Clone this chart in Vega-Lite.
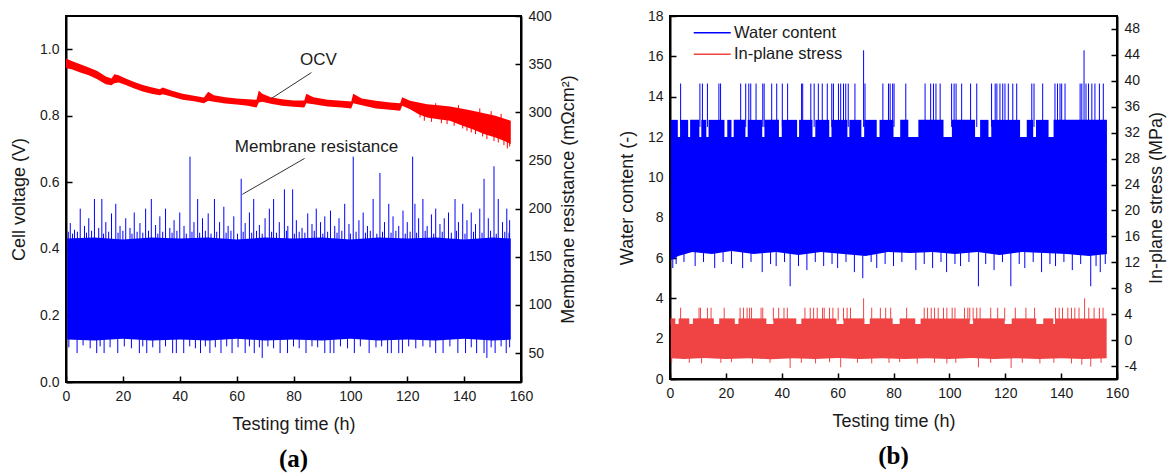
{
"$schema": "https://vega.github.io/schema/vega-lite/v6.json",
"padding": {"left": 9, "top": 8, "right": 0, "bottom": 0},
"bounds": "flush",
"spacing": 149,
"background": "white",
"config": {
  "font": "Liberation Sans",
  "view": {"stroke": "black", "strokeWidth": 2},
  "axis": {"domainColor": "black", "domainWidth": 2, "tickColor": "black", "tickWidth": 1.5, "tickSize": -6, "labelPadding": 13, "labelFont": "Liberation Sans", "labelFontSize": 14, "labelColor": "#1a1a1a", "titleFont": "Liberation Sans", "titleFontSize": 18, "titleFontWeight": "normal", "titleColor": "#1a1a1a", "grid": false, "labelFlush": false, "labelOverlap": false},
  "legend": {"labelFont": "Liberation Sans"}
},
"datasets": {
  "a_ocv": [
    {"t":0,"v":0.943,"v2":0.972},{"t":2,"v":0.940,"v2":0.965},{"t":5,"v":0.930,"v2":0.955},{"t":8,"v":0.922,"v2":0.945},{"t":11,"v":0.910,"v2":0.935},{"t":14,"v":0.895,"v2":0.918},{"t":16,"v":0.892,"v2":0.912},{"t":17,"v":0.898,"v2":0.925},{"t":18.5,"v":0.900,"v2":0.922},{"t":21,"v":0.893,"v2":0.912},{"t":24,"v":0.882,"v2":0.902},{"t":27,"v":0.873,"v2":0.893},{"t":30,"v":0.866,"v2":0.886},{"t":33,"v":0.862,"v2":0.880},{"t":34,"v":0.865,"v2":0.885},{"t":37,"v":0.858,"v2":0.876},{"t":41,"v":0.848,"v2":0.866},{"t":45,"v":0.844,"v2":0.860},{"t":48.5,"v":0.838,"v2":0.855},{"t":50,"v":0.845,"v2":0.872},{"t":52,"v":0.842,"v2":0.862},{"t":56,"v":0.837,"v2":0.856},{"t":60,"v":0.834,"v2":0.852},{"t":64,"v":0.830,"v2":0.850},{"t":67,"v":0.825,"v2":0.848},{"t":67.8,"v":0.840,"v2":0.876},{"t":69,"v":0.842,"v2":0.866},{"t":72,"v":0.836,"v2":0.856},{"t":76,"v":0.830,"v2":0.850},{"t":80,"v":0.827,"v2":0.846},{"t":83.8,"v":0.825,"v2":0.846},{"t":84.5,"v":0.838,"v2":0.866},{"t":87,"v":0.835,"v2":0.856},{"t":92,"v":0.828,"v2":0.848},{"t":97,"v":0.825,"v2":0.845},{"t":100.3,"v":0.822,"v2":0.843},{"t":101,"v":0.838,"v2":0.866},{"t":104,"v":0.832,"v2":0.852},{"t":109,"v":0.822,"v2":0.845},{"t":114,"v":0.818,"v2":0.840},{"t":117.5,"v":0.815,"v2":0.838},{"t":118.2,"v":0.830,"v2":0.856},{"t":121,"v":0.820,"v2":0.845},{"t":124,"v":0.805,"v2":0.840},{"t":127,"v":0.795,"v2":0.835},{"t":131,"v":0.790,"v2":0.832},{"t":135,"v":0.785,"v2":0.828},{"t":139,"v":0.772,"v2":0.822},{"t":143,"v":0.760,"v2":0.815},{"t":147,"v":0.745,"v2":0.808},{"t":151,"v":0.735,"v2":0.800},{"t":154,"v":0.725,"v2":0.792},{"t":156.4,"v":0.715,"v2":0.785}
  ],
  "a_ocv_sp": [
    {"t":124.5,"v":0.795,"b":0.82},{"t":126,"v":0.785,"b":0.82},{"t":128.5,"v":0.782,"b":0.815},{"t":130,"v":0.838,"b":0.81},{"t":132,"v":0.778,"b":0.81},{"t":134,"v":0.775,"b":0.81},{"t":136.5,"v":0.77,"b":0.805},{"t":138,"v":0.832,"b":0.8},{"t":139.5,"v":0.762,"b":0.8},{"t":141,"v":0.755,"b":0.79},{"t":142.5,"v":0.75,"b":0.79},{"t":144,"v":0.745,"b":0.785},{"t":145.5,"v":0.822,"b":0.78},{"t":146.5,"v":0.738,"b":0.78},{"t":148,"v":0.73,"b":0.775},{"t":149.5,"v":0.814,"b":0.77},{"t":150.5,"v":0.724,"b":0.765},{"t":152,"v":0.72,"b":0.76},{"t":153,"v":0.806,"b":0.76},{"t":154,"v":0.712,"b":0.755},{"t":155.2,"v":0.702,"b":0.75},{"t":156,"v":0.708,"b":0.75}
  ],
  "a_notes": [
    {"t":86.3,"v":0.930,"t2":72.2,"v2":0.852,"label":"OCV","lt":88.8,"lv":0.969},
    {"t":83.9,"v":0.672,"t2":62.0,"v2":0.564,"label":"Membrane resistance","lt":88.1,"lv":0.705}
  ],
  "a_blue": [
    {"t":0.4,"v":64,"v2":169},{"t":10,"v":63,"v2":170},{"t":20,"v":65,"v2":168},{"t":30,"v":63,"v2":170},{"t":40,"v":64,"v2":169},{"t":50,"v":63,"v2":170},{"t":60,"v":65,"v2":168},{"t":70,"v":63,"v2":170},{"t":80,"v":64,"v2":169},{"t":90,"v":63,"v2":170},{"t":100,"v":65,"v2":168},{"t":110,"v":63,"v2":170},{"t":120,"v":64,"v2":169},{"t":130,"v":63,"v2":170},{"t":140,"v":65,"v2":168},{"t":150,"v":63,"v2":170},{"t":156.4,"v":64,"v2":169}
  ],
  "a_up": [
    {"t":1.5,"v":185},{"t":3,"v":178},{"t":5,"v":200},{"t":6.5,"v":182},{"t":8,"v":190},{"t":10,"v":210},{"t":11.5,"v":180},{"t":12.6,"v":210},{"t":14,"v":186},{"t":16,"v":195},{"t":17.5,"v":205},{"t":19,"v":182},{"t":21,"v":190},{"t":22.5,"v":180},{"t":24,"v":196},{"t":26,"v":185},{"t":28,"v":200},{"t":30,"v":210},{"t":31.5,"v":183},{"t":33,"v":192},{"t":35,"v":200},{"t":36.5,"v":180},{"t":38,"v":188},{"t":40,"v":196},{"t":41.5,"v":182},{"t":43.6,"v":254},{"t":45,"v":186},{"t":46.3,"v":210},{"t":48,"v":190},{"t":50,"v":195},{"t":52.2,"v":210},{"t":54,"v":186},{"t":55.5,"v":202},{"t":57,"v":182},{"t":59,"v":192},{"t":61.6,"v":231},{"t":63,"v":185},{"t":64.5,"v":196},{"t":66,"v":210},{"t":68,"v":183},{"t":70,"v":190},{"t":71.5,"v":200},{"t":73,"v":210},{"t":75,"v":186},{"t":76.8,"v":220},{"t":78,"v":182},{"t":79.7,"v":220},{"t":81,"v":188},{"t":83,"v":180},{"t":85,"v":195},{"t":86.5,"v":184},{"t":88,"v":200},{"t":89.5,"v":186},{"t":91,"v":192},{"t":93,"v":198},{"t":94.5,"v":182},{"t":96,"v":190},{"t":98,"v":205},{"t":99.5,"v":184},{"t":101,"v":254},{"t":103,"v":188},{"t":104.5,"v":196},{"t":106,"v":182},{"t":108,"v":210},{"t":110.4,"v":237},{"t":112,"v":186},{"t":113.5,"v":205},{"t":115,"v":192},{"t":117,"v":182},{"t":118.5,"v":198},{"t":120,"v":186},{"t":121.9,"v":254},{"t":122.7,"v":205},{"t":124,"v":190},{"t":125.5,"v":210},{"t":127,"v":182},{"t":128.5,"v":194},{"t":130,"v":200},{"t":131.5,"v":184},{"t":133,"v":190},{"t":134.5,"v":196},{"t":136.8,"v":210},{"t":138,"v":186},{"t":139.5,"v":205},{"t":141,"v":188},{"t":142.5,"v":196},{"t":144,"v":184},{"t":145.5,"v":200},{"t":147,"v":231},{"t":148.5,"v":190},{"t":150.5,"v":244},{"t":152,"v":210},{"t":153.5,"v":186},{"t":155,"v":200},{"t":156,"v":188},
    {"t":0.8,"v":176},{"t":2.3,"v":174},{"t":4,"v":176},{"t":7.2,"v":175},{"t":9,"v":177},{"t":13.2,"v":174},{"t":15,"v":176},{"t":18.3,"v":175},{"t":20,"v":177},{"t":23.2,"v":174},{"t":25,"v":176},{"t":27,"v":175},{"t":29,"v":177},{"t":32.3,"v":174},{"t":34,"v":176},{"t":37.3,"v":175},{"t":39,"v":177},{"t":42.3,"v":174},{"t":44.3,"v":176},{"t":47,"v":175},{"t":49,"v":177},{"t":51,"v":174},{"t":53,"v":176},{"t":56.3,"v":175},{"t":58,"v":177},{"t":60.3,"v":174},{"t":62.3,"v":176},{"t":65.3,"v":175},{"t":67,"v":177},{"t":69,"v":174},{"t":72.3,"v":176},{"t":74,"v":175},{"t":77.5,"v":177},{"t":80.3,"v":174},{"t":82,"v":176},{"t":84,"v":175},{"t":87.3,"v":177},{"t":90.3,"v":174},{"t":92,"v":176},{"t":95.3,"v":175},{"t":97,"v":177},{"t":100,"v":174},{"t":102,"v":176},{"t":105.3,"v":175},{"t":107,"v":177},{"t":109.3,"v":174},{"t":111.3,"v":176},{"t":114.3,"v":175},{"t":116,"v":177},{"t":119.3,"v":174},{"t":121,"v":176},{"t":123.3,"v":175},{"t":126.3,"v":177},{"t":129.3,"v":174},{"t":132.3,"v":176},{"t":135.5,"v":175},{"t":137.3,"v":177},{"t":140.3,"v":174},{"t":143.3,"v":176},{"t":146.3,"v":175},{"t":149.3,"v":177},{"t":151.3,"v":174},{"t":154.3,"v":176},{"t":155.8,"v":175}
  ],
  "a_dn": [
    {"t":1,"v":56},{"t":3.9,"v":50},{"t":6,"v":58},{"t":8.5,"v":55},{"t":10.8,"v":50},{"t":12,"v":57},{"t":13.4,"v":50},{"t":15.5,"v":56},{"t":18.2,"v":50},{"t":20.5,"v":57},{"t":23,"v":55},{"t":25.8,"v":50},{"t":27,"v":57},{"t":28.4,"v":50},{"t":30.5,"v":56},{"t":33,"v":50},{"t":35,"v":57},{"t":37.5,"v":50},{"t":38.8,"v":50},{"t":41.4,"v":50},{"t":43.5,"v":57},{"t":45.5,"v":55},{"t":47.3,"v":50},{"t":49,"v":57},{"t":50.6,"v":50},{"t":52.5,"v":56},{"t":54.5,"v":50},{"t":56.5,"v":57},{"t":58.4,"v":50},{"t":60.5,"v":56},{"t":63,"v":50},{"t":64.5,"v":57},{"t":66.2,"v":50},{"t":68,"v":56},{"t":69,"v":45},{"t":71,"v":57},{"t":73,"v":55},{"t":75.3,"v":50},{"t":77.9,"v":50},{"t":80,"v":57},{"t":82,"v":55},{"t":84.4,"v":50},{"t":86.5,"v":57},{"t":88.5,"v":56},{"t":91,"v":50},{"t":92.9,"v":50},{"t":94.2,"v":50},{"t":96.5,"v":57},{"t":99,"v":55},{"t":101.4,"v":50},{"t":103.5,"v":57},{"t":106.6,"v":50},{"t":109,"v":56},{"t":111,"v":57},{"t":113.1,"v":50},{"t":114.4,"v":50},{"t":117,"v":50},{"t":118.3,"v":50},{"t":120.5,"v":57},{"t":123,"v":55},{"t":125.5,"v":57},{"t":128,"v":56},{"t":130,"v":50},{"t":132.6,"v":50},{"t":135,"v":57},{"t":137.8,"v":50},{"t":140.5,"v":50},{"t":142.5,"v":56},{"t":144.4,"v":50},{"t":147,"v":50},{"t":148,"v":45},{"t":149.5,"v":56},{"t":150.9,"v":50},{"t":153,"v":57},{"t":154.8,"v":50},{"t":156,"v":56}
  ],
  "b_blue": [
    {"t":0.3,"v":5.9,"v2":12},{"t":3,"v":6.1,"v2":12},{"t":8,"v":6.3,"v2":12},{"t":15,"v":6.2,"v2":12},{"t":22,"v":6.35,"v2":12},{"t":30,"v":6.2,"v2":12},{"t":38,"v":6.3,"v2":12},{"t":46,"v":6.15,"v2":12},{"t":54,"v":6.3,"v2":12},{"t":62,"v":6.2,"v2":12},{"t":70,"v":6.1,"v2":12},{"t":78,"v":6.3,"v2":12},{"t":86,"v":6.25,"v2":12},{"t":94,"v":6.3,"v2":12},{"t":102,"v":6.2,"v2":12},{"t":110,"v":6.3,"v2":12},{"t":118,"v":6.15,"v2":12},{"t":126,"v":6.3,"v2":12},{"t":134,"v":6.25,"v2":12},{"t":142,"v":6.2,"v2":12},{"t":150,"v":6.1,"v2":12},{"t":156.4,"v":6.2,"v2":12}
  ],
  "b_blue_pl": [
    {"t":0.3,"t2":2.8,"v":11.9,"v2":12.85},{"t":3.6,"t2":6.5,"v":11.9,"v2":12.85},{"t":7.2,"t2":10.5,"v":11.9,"v2":12.85},{"t":11.2,"t2":13,"v":11.9,"v2":12.85},{"t":13.8,"t2":19.5,"v":11.9,"v2":12.85},{"t":20.5,"t2":22,"v":11.9,"v2":12.85},{"t":22.8,"t2":27,"v":11.9,"v2":12.85},{"t":27.8,"t2":33,"v":11.9,"v2":12.85},{"t":33.8,"t2":39,"v":11.9,"v2":12.85},{"t":40,"t2":45.5,"v":11.9,"v2":12.85},{"t":46.2,"t2":51,"v":11.9,"v2":12.85},{"t":52,"t2":57,"v":11.9,"v2":12.85},{"t":57.8,"t2":63.5,"v":11.9,"v2":12.85},{"t":64.2,"t2":68.5,"v":11.9,"v2":12.85},{"t":69.5,"t2":74,"v":11.9,"v2":12.85},{"t":75,"t2":80,"v":11.9,"v2":12.85},{"t":82.4,"t2":85.3,"v":11.9,"v2":12.85},{"t":88.9,"t2":97.9,"v":11.9,"v2":12.85},{"t":100.9,"t2":109.2,"v":11.9,"v2":12.85},{"t":111,"t2":114,"v":11.9,"v2":12.85},{"t":115,"t2":125.3,"v":11.9,"v2":12.85},{"t":127.7,"t2":130,"v":11.9,"v2":12.85},{"t":131,"t2":135.5,"v":11.9,"v2":12.85},{"t":137.3,"t2":156.4,"v":11.9,"v2":12.85}
  ],
  "b_blue_up": [
    {"t":3.8,"v":14.65},{"t":10.7,"v":14.65},{"t":11.6,"v":14.65},{"t":13.4,"v":14.65},{"t":17.5,"v":14.65},{"t":18.1,"v":14.65},{"t":25.3,"v":14.65},{"t":27.1,"v":14.65},{"t":28.2,"v":14.65},{"t":28.9,"v":14.65},{"t":30.8,"v":14.65},{"t":33.2,"v":14.65},{"t":33.7,"v":14.65},{"t":36.4,"v":14.65},{"t":38.2,"v":14.65},{"t":40.2,"v":14.65},{"t":42.1,"v":14.65},{"t":47.1,"v":14.65},{"t":47.5,"v":14.65},{"t":50.4,"v":14.65},{"t":51.6,"v":14.65},{"t":53.1,"v":14.65},{"t":54.5,"v":14.65},{"t":56.3,"v":14.65},{"t":57.9,"v":14.65},{"t":58.5,"v":14.65},{"t":60.3,"v":14.65},{"t":61.1,"v":14.65},{"t":62.1,"v":14.65},{"t":62.9,"v":14.65},{"t":63.8,"v":14.65},{"t":66.2,"v":14.65},{"t":69.3,"v":16.3},{"t":69.8,"v":14.65},{"t":76.2,"v":14.65},{"t":78.2,"v":14.65},{"t":78.8,"v":14.65},{"t":79.7,"v":14.65},{"t":80.2,"v":14.65},{"t":84.4,"v":14.65},{"t":91.3,"v":14.65},{"t":93.3,"v":14.65},{"t":94.3,"v":14.65},{"t":95.2,"v":14.65},{"t":96.7,"v":14.65},{"t":100.8,"v":14.65},{"t":101.7,"v":14.65},{"t":102.4,"v":14.65},{"t":104.4,"v":14.65},{"t":107.6,"v":14.65},{"t":109.8,"v":14.65},{"t":115.1,"v":14.65},{"t":116.4,"v":14.65},{"t":117,"v":14.65},{"t":118.1,"v":14.65},{"t":119.1,"v":14.65},{"t":119.9,"v":14.65},{"t":121.1,"v":14.65},{"t":122.7,"v":14.65},{"t":124.1,"v":14.65},{"t":129.5,"v":14.65},{"t":130.3,"v":14.65},{"t":133.4,"v":14.65},{"t":137.8,"v":14.65},{"t":138.7,"v":14.65},{"t":139.6,"v":14.65},{"t":140.2,"v":14.65},{"t":141.4,"v":14.65},{"t":146.8,"v":14.65},{"t":147.4,"v":14.65},{"t":148.2,"v":16.3},{"t":148.9,"v":14.65},{"t":149.8,"v":14.65},{"t":151,"v":14.65},{"t":152.1,"v":14.65},{"t":153.7,"v":14.65},{"t":155.1,"v":14.65}
  ],
  "b_blue_dn": [
    {"t":1,"v":5.5},{"t":2.2,"v":5.7},{"t":5,"v":5.8},{"t":9,"v":5.6},{"t":12,"v":5.8},{"t":16,"v":5.5},{"t":19,"v":5.8},{"t":22,"v":5.7},{"t":26,"v":5.5},{"t":29,"v":5.8},{"t":33,"v":5.3},{"t":36,"v":5.7},{"t":38,"v":5.6},{"t":41,"v":5.8},{"t":43,"v":4.6},{"t":46,"v":5.6},{"t":49,"v":5.4},{"t":52,"v":5.8},{"t":55,"v":5.6},{"t":58,"v":5.7},{"t":60,"v":5.5},{"t":63,"v":5.8},{"t":66,"v":5.3},{"t":69,"v":5.0},{"t":72,"v":5.8},{"t":74,"v":5.5},{"t":77,"v":5.7},{"t":80,"v":5.6},{"t":83,"v":5.8},{"t":88,"v":5.4},{"t":91,"v":5.7},{"t":94,"v":5.5},{"t":97,"v":5.8},{"t":99,"v":5.3},{"t":102,"v":5.7},{"t":104,"v":5.6},{"t":107,"v":5.8},{"t":110.4,"v":4.6},{"t":113,"v":5.7},{"t":116,"v":5.4},{"t":119,"v":5.8},{"t":122,"v":4.6},{"t":125,"v":5.7},{"t":127,"v":5.5},{"t":130,"v":5.8},{"t":133,"v":5.3},{"t":136,"v":5.7},{"t":138,"v":5.6},{"t":141,"v":5.8},{"t":144,"v":5.4},{"t":147,"v":5.7},{"t":150.6,"v":4.6},{"t":152.5,"v":5.6},{"t":154,"v":5.3},{"t":155.8,"v":5.7}
  ],
  "b_red": [
    {"t":0.3,"v":-2.8,"v2":2.5},{"t":5,"v":-2.9,"v2":2.5},{"t":12,"v":-2.75,"v2":2.5},{"t":20,"v":-2.9,"v2":2.5},{"t":28,"v":-2.8,"v2":2.5},{"t":36,"v":-2.95,"v2":2.5},{"t":44,"v":-2.8,"v2":2.5},{"t":52,"v":-2.9,"v2":2.5},{"t":60,"v":-2.75,"v2":2.5},{"t":68,"v":-2.9,"v2":2.5},{"t":76,"v":-2.8,"v2":2.5},{"t":84,"v":-2.9,"v2":2.5},{"t":92,"v":-2.8,"v2":2.5},{"t":100,"v":-2.9,"v2":2.5},{"t":108,"v":-2.75,"v2":2.5},{"t":116,"v":-2.9,"v2":2.5},{"t":124,"v":-2.8,"v2":2.5},{"t":132,"v":-2.9,"v2":2.5},{"t":140,"v":-2.8,"v2":2.5},{"t":148,"v":-2.9,"v2":2.5},{"t":156.3,"v":-2.8,"v2":2.5}
  ],
  "b_red_pl": [
    {"t":0.2,"t2":1.9,"v":2.4,"v2":3.35},{"t":3.1,"t2":6.9,"v":2.4,"v2":3.35},{"t":8.2,"t2":15.7,"v":2.4,"v2":3.35},{"t":17.6,"t2":23.2,"v":2.4,"v2":3.35},{"t":24.5,"t2":34.5,"v":2.4,"v2":3.35},{"t":37,"t2":45.2,"v":2.4,"v2":3.35},{"t":47,"t2":59.6,"v":2.4,"v2":3.35},{"t":62.1,"t2":69.6,"v":2.4,"v2":3.35},{"t":71.5,"t2":79.7,"v":2.4,"v2":3.35},{"t":82.2,"t2":87.8,"v":2.4,"v2":3.35},{"t":89.7,"t2":107.3,"v":2.4,"v2":3.35},{"t":108.5,"t2":119.8,"v":2.4,"v2":3.35},{"t":122.3,"t2":131.1,"v":2.4,"v2":3.35},{"t":133.6,"t2":137.2,"v":2.4,"v2":3.35},{"t":137.8,"t2":156.3,"v":2.4,"v2":3.35}
  ],
  "b_red_up": [
    {"t":3.8,"v":5},{"t":10.4,"v":5},{"t":10.9,"v":5},{"t":13.4,"v":5},{"t":14.7,"v":5},{"t":19.4,"v":5},{"t":25.1,"v":5},{"t":26.3,"v":5},{"t":27.6,"v":5},{"t":28.5,"v":5},{"t":29.2,"v":5},{"t":32.6,"v":5},{"t":33.2,"v":5},{"t":37,"v":5},{"t":38.9,"v":5},{"t":40.8,"v":5},{"t":42,"v":5},{"t":48.3,"v":5},{"t":50.2,"v":5},{"t":51.4,"v":5},{"t":52.7,"v":5},{"t":54.6,"v":5},{"t":55.2,"v":5},{"t":57.1,"v":5},{"t":58.3,"v":5},{"t":60.2,"v":5},{"t":62.1,"v":5},{"t":63.4,"v":5},{"t":64.6,"v":5},{"t":69.3,"v":6.45},{"t":72.2,"v":5},{"t":75.3,"v":5},{"t":77.2,"v":5},{"t":79,"v":5},{"t":84.7,"v":5},{"t":91,"v":5},{"t":92.2,"v":5},{"t":93.5,"v":5},{"t":94.7,"v":5},{"t":96,"v":5},{"t":97.9,"v":5},{"t":99.1,"v":5},{"t":101,"v":5},{"t":102,"v":5},{"t":105.4,"v":5},{"t":106.6,"v":5},{"t":107.3,"v":5},{"t":108.5,"v":5},{"t":109.8,"v":5},{"t":111,"v":5},{"t":114.8,"v":5},{"t":117.3,"v":5},{"t":119.8,"v":5},{"t":123.6,"v":5},{"t":127.4,"v":5},{"t":130.5,"v":5},{"t":138,"v":5},{"t":139.3,"v":5},{"t":140.5,"v":5},{"t":142.4,"v":5},{"t":143.7,"v":5},{"t":144.9,"v":5},{"t":146.4,"v":5},{"t":148.4,"v":6.45},{"t":149.9,"v":5},{"t":151.8,"v":5},{"t":153.7,"v":5},{"t":155,"v":5}
  ],
  "b_red_dn": [
    {"t":0.6,"v":-3.5},{"t":6.9,"v":-3.5},{"t":11.3,"v":-3.6},{"t":18.2,"v":-3.5},{"t":22,"v":-3.4},{"t":29.5,"v":-3.6},{"t":35.8,"v":-3.5},{"t":43,"v":-4.3},{"t":47,"v":-3.5},{"t":52.1,"v":-3.6},{"t":57.1,"v":-3.4},{"t":61.1,"v":-4.2},{"t":67.1,"v":-3.5},{"t":72.2,"v":-3.6},{"t":78.4,"v":-3.5},{"t":82.2,"v":-3.4},{"t":88.5,"v":-3.6},{"t":94.7,"v":-3.5},{"t":99.1,"v":-3.6},{"t":102.3,"v":-3.5},{"t":110.4,"v":-4.2},{"t":114.8,"v":-3.5},{"t":122.1,"v":-4.3},{"t":126.1,"v":-3.5},{"t":132.4,"v":-3.6},{"t":137.4,"v":-3.5},{"t":143.7,"v":-3.6},{"t":147.4,"v":-3.8},{"t":150.6,"v":-4.1},{"t":154.3,"v":-3.5}
  ]
},
"hconcat": [
  {
    "width": 455, "height": 366,
    "title": {"text": "(a)", "orient": "bottom", "anchor": "middle", "font": "Liberation Serif", "fontSize": 25, "fontWeight": "bold", "color": "black", "offset": 14},
    "encoding": {"x": {"field": "t", "type": "quantitative", "scale": {"domain": [0, 160], "nice": false}, "axis": {"values": [0,20,40,60,80,100,120,140,160], "title": "Testing time (h)", "titlePadding": 12}}},
    "layer": [
      {
        "encoding": {"y": {"field": "v", "type": "quantitative", "scale": {"domain": [20, 400], "nice": false, "zero": false}, "axis": {"orient": "right", "values": [50,100,150,200,250,300,350,400], "title": "Membrane resistance (mΩcm²)", "titleAngle": 270, "titleBaseline": "top", "titlePadding": 8}}},
        "layer": [
          {"data": {"name": "a_blue"}, "mark": {"type": "area", "color": "#0000ff"}, "encoding": {"y2": {"field": "v2"}}},
          {"data": {"name": "a_up"}, "mark": {"type": "rule", "color": "#0000ff", "strokeWidth": 1}, "encoding": {"y2": {"datum": 160}}},
          {"data": {"name": "a_dn"}, "mark": {"type": "rule", "color": "#0000ff", "strokeWidth": 1}, "encoding": {"y2": {"datum": 70}}}
        ]
      },
      {
        "encoding": {"y": {"field": "v", "type": "quantitative", "scale": {"domain": [0, 1.1], "nice": false}, "axis": {"orient": "left", "values": [0,0.2,0.4,0.6,0.8,1.0], "format": ".1f", "title": "Cell voltage (V)", "titlePadding": 11}}},
        "layer": [
          {"data": {"name": "a_ocv"}, "mark": {"type": "area", "color": "#ff0000"}, "encoding": {"y2": {"field": "v2"}}},
          {"data": {"name": "a_ocv_sp"}, "mark": {"type": "rule", "color": "#ff0000", "strokeWidth": 1}, "encoding": {"y2": {"field": "b"}}},
          {"data": {"name": "a_notes"}, "mark": {"type": "rule", "color": "#333333", "strokeWidth": 1}, "encoding": {"x2": {"field": "t2"}, "y2": {"field": "v2"}}},
          {"data": {"name": "a_notes"}, "mark": {"type": "text", "fontSize": 17, "color": "#1a1a1a", "baseline": "middle", "align": "center"}, "encoding": {"x": {"field": "lt", "type": "quantitative"}, "y": {"field": "lv", "type": "quantitative"}, "text": {"field": "label"}}}
        ]
      }
    ],
    "resolve": {"scale": {"y": "independent"}}
  },
  {
    "width": 447, "height": 363,
    "title": {"text": "(b)", "orient": "bottom", "anchor": "middle", "font": "Liberation Serif", "fontSize": 25, "fontWeight": "bold", "color": "black", "offset": 14},
    "encoding": {"x": {"field": "t", "type": "quantitative", "scale": {"domain": [0, 160], "nice": false}, "axis": {"values": [0,20,40,60,80,100,120,140,160], "title": "Testing time (h)", "titlePadding": 12}}},
    "layer": [
      {
        "encoding": {"y": {"field": "v", "type": "quantitative", "scale": {"domain": [0, 18], "nice": false}, "axis": {"orient": "left", "values": [0,2,4,6,8,10,12,14,16,18], "title": "Water content (-)", "titlePadding": 11}}},
        "layer": [
          {"data": {"name": "b_blue"}, "mark": {"type": "area", "color": "#0000ff"}, "encoding": {"y2": {"field": "v2"}}},
          {"data": {"name": "b_blue_pl"}, "mark": {"type": "rect", "color": "#0000ff"}, "encoding": {"x2": {"field": "t2"}, "y2": {"field": "v2"}}},
          {"data": {"name": "b_blue_up"}, "mark": {"type": "rule", "strokeWidth": 1}, "encoding": {"y2": {"datum": 12.5}, "color": {"datum": "Water content", "type": "nominal", "scale": {"domain": ["Water content", "In-plane stress"], "range": ["#0000ff", "#f04444"]}, "legend": {"orient": "none", "legendX": 638, "legendY": 8.5, "title": null, "symbolType": "M-3,0H3", "symbolSize": 152, "symbolStrokeWidth": 1.3, "labelFontSize": 16.5, "labelColor": "#1a1a1a", "labelOffset": 13.5, "rowPadding": 4.5}}}},
          {"data": {"name": "b_blue_dn"}, "mark": {"type": "rule", "color": "#0000ff", "strokeWidth": 1}, "encoding": {"y2": {"datum": 7}}}
        ]
      },
      {
        "encoding": {"y": {"field": "v", "type": "quantitative", "scale": {"domain": [-6, 50], "nice": false, "zero": false}, "axis": {"orient": "right", "values": [-4,0,4,8,12,16,20,24,28,32,36,40,44,48], "labelExpr": "'' + datum.value", "title": "In-plane stress (MPa)", "titleAngle": 270, "titleBaseline": "top", "titlePadding": 8}}},
        "layer": [
          {"data": {"name": "b_red"}, "mark": {"type": "area", "color": "#f04444"}, "encoding": {"y2": {"field": "v2"}}},
          {"data": {"name": "b_red_pl"}, "mark": {"type": "rect", "color": "#f04444"}, "encoding": {"x2": {"field": "t2"}, "y2": {"field": "v2"}}},
          {"data": {"name": "b_red_up"}, "mark": {"type": "rule", "strokeWidth": 1}, "encoding": {"y2": {"datum": 3}, "color": {"datum": "In-plane stress", "type": "nominal", "scale": {"domain": ["Water content", "In-plane stress"], "range": ["#0000ff", "#f04444"]}, "legend": {"orient": "none", "legendX": 638, "legendY": 8.5, "title": null, "symbolType": "M-3,0H3", "symbolSize": 152, "symbolStrokeWidth": 1.3, "labelFontSize": 16.5, "labelColor": "#1a1a1a", "labelOffset": 13.5, "rowPadding": 4.5}}}},
          {"data": {"name": "b_red_dn"}, "mark": {"type": "rule", "color": "#f04444", "strokeWidth": 1}, "encoding": {"y2": {"datum": -2}}}
        ]
      }
    ],
    "resolve": {"scale": {"y": "independent"}}
  }
]
}
